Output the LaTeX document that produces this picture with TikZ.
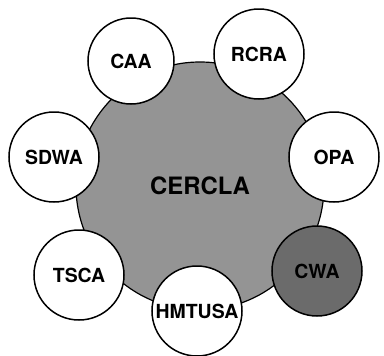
\documentclass[tikz,border=0pt]{standalone}
\usepackage{fontspec}
\setmainfont{TeX Gyre Heros}
\usepackage{tikz}
\usetikzlibrary{positioning}

\begin{document}
\begin{tikzpicture}[
  x=1bp, y=-1bp,
  hub/.style={draw, circle, fill=black!42, line width=1.2bp,
              minimum size=248bp, inner sep=0pt,
              font=\fontsize{24}{26}\selectfont\bfseries},
  act/.style={draw, circle, fill=white, line width=1.5bp,
              minimum size=90bp, inner sep=0pt,
              font=\fontsize{19.5}{21}\selectfont\bfseries},
  actdark/.style={act, fill=black!58}]

\useasboundingbox (0,0) rectangle (384,356);

% central statute
\node[hub] (cercla) at (200,186) {CERCLA};

% surrounding statutes
\node[act, minimum size=86bp] (caa) at (131,61) {CAA};
\node[act] (rcra)   at (259,54)  {RCRA};
\node[act] (sdwa)   at (54,157)  {SDWA};
\node[act] (opa)    at (334,157) {OPA};
\node[act] (tsca)   at (79,275)  {TSCA};
\node[act] (hmtusa) at (197,311) {HMTUSA};
\node[actdark] (cwa) at (317,271) {CWA};
\end{tikzpicture}
\end{document}
